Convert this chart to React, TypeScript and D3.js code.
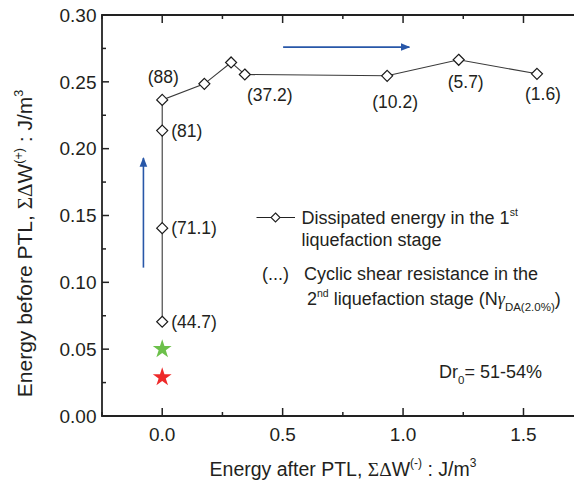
import React from "react";
import * as d3 from "d3";

// ---- data ----
const energyAfter = [0, 0, 0, 0, 0.175, 0.286, 0.343, 0.934, 1.231, 1.556];
const energyBefore = [0.0705, 0.1405, 0.2135, 0.2365, 0.2485, 0.2645, 0.2555, 0.2545, 0.2665, 0.256];
const resistanceLabels = ["(44.7)", "(71.1)", "(81)", "(88)", "", "", "(37.2)", "(10.2)", "(5.7)", "(1.6)"];
const starX = [0, 0];
const starY = [0.05, 0.029];
const starColors = ["#6cc04a", "#ee2a2a"];
const xTicks = [0, 0.5, 1.0, 1.5];
const xMinorTicks = [-0.25, 0.25, 0.75, 1.25, 1.75];
const yTicks = [0, 0.05, 0.1, 0.15, 0.2, 0.25, 0.3];
const yMinorTicks = [0.025, 0.075, 0.125, 0.175, 0.225, 0.275];
// arrows: [x1, y1, x2, y2] in data units
const arrowUp = [-0.078, 0.111, -0.078, 0.193];
const arrowRight = [0.502, 0.276, 1.026, 0.276];

const W = 574;
const H = 485;
const M = { left: 102, top: 15, bottom: 416 };
const FONT = "'Liberation Sans', Arial, Helvetica, sans-serif";
const SERIF = "'Liberation Serif', 'Times New Roman', serif";
const TXT = "#231f20";
const BLUE = "#2857a8";

// label placement (style only)
const labelPlacement: { dx: number; dy: number; anchor: string }[] = [
  { dx: 9, dy: 6, anchor: "start" },
  { dx: 9, dy: 6, anchor: "start" },
  { dx: 9, dy: 6, anchor: "start" },
  { dx: 1, dy: -17, anchor: "middle" },
  { dx: 0, dy: 0, anchor: "start" },
  { dx: 0, dy: 0, anchor: "start" },
  { dx: 25, dy: 27, anchor: "middle" },
  { dx: 8, dy: 32, anchor: "middle" },
  { dx: 7, dy: 28, anchor: "middle" },
  { dx: 6, dy: 26, anchor: "middle" },
];

function diamondPath(cx: number, cy: number, r: number) {
  return `M${cx},${cy - r}L${cx + r},${cy}L${cx},${cy + r}L${cx - r},${cy}Z`;
}

export default function App() {
  const x = d3.scaleLinear().domain([-0.25, 1.75]).range([M.left, 583.7]);
  const y = d3.scaleLinear().domain([0, 0.3]).range([M.bottom, M.top]);
  const right = x(1.75);

  const pts = energyAfter.map((v, i) => [x(v), y(energyBefore[i])] as [number, number]);
  const line = d3.line()(pts) as string;
  const star = d3.symbol().type(d3.symbolStar).size(110)();

  return (
    <svg
      width={W}
      height={H}
      style={{ position: "absolute", left: 0, top: 0, background: "#fff" }}
      fontFamily={FONT}
    >
      <defs>
        <marker id="ah" viewBox="0 0 10 10" refX="9" refY="5" markerWidth="6" markerHeight="6" orient="auto">
          <path d="M0,1L10,5L0,9Z" fill={BLUE} />
        </marker>
      </defs>

      {/* arrows */}
      <line
        x1={x(arrowUp[0])}
        y1={y(arrowUp[1])}
        x2={x(arrowUp[2])}
        y2={y(arrowUp[3])}
        stroke={BLUE}
        strokeWidth={1.6}
        markerEnd="url(#ah)"
      />
      <line
        x1={x(arrowRight[0])}
        y1={y(arrowRight[1])}
        x2={x(arrowRight[2])}
        y2={y(arrowRight[3])}
        stroke={BLUE}
        strokeWidth={1.6}
        markerEnd="url(#ah)"
      />

      {/* data line */}
      <path d={line} fill="none" stroke="#3a3a3a" strokeWidth={1.1} />
      {pts.map((p, i) => (
        <path key={i} d={diamondPath(p[0], p[1], 5.5)} fill="#fff" stroke="#1a1a1a" strokeWidth={1.2} />
      ))}
      {pts.map((p, i) =>
        resistanceLabels[i] ? (
          <text
            key={"l" + i}
            x={p[0] + labelPlacement[i].dx}
            y={p[1] + labelPlacement[i].dy}
            textAnchor={labelPlacement[i].anchor as any}
            fontSize={17.5}
            fill={TXT}
          >
            {resistanceLabels[i]}
          </text>
        ) : null
      )}

      {/* stars */}
      {starX.map((v, i) => (
        <path key={"s" + i} d={star} transform={`translate(${x(v)},${y(starY[i])})`} fill={starColors[i]} />
      ))}

      {/* axes frame */}
      <g stroke="#222" strokeWidth={1.8} fill="none">
        <line x1={M.left} y1={M.top} x2={M.left} y2={M.bottom} />
        <line x1={M.left - 0.9} y1={M.bottom} x2={right} y2={M.bottom} />
        <line x1={M.left - 0.9} y1={M.top} x2={right} y2={M.top} />
      </g>
      <g stroke="#222" strokeWidth={1.5}>
        {yTicks.map((t) => (
          <line key={"yt" + t} x1={M.left} x2={M.left + 7} y1={y(t)} y2={y(t)} />
        ))}
        {yMinorTicks.map((t) => (
          <line key={"ym" + t} x1={M.left} x2={M.left + 4} y1={y(t)} y2={y(t)} />
        ))}
        {xTicks.map((t) => (
          <g key={"xt" + t}>
            <line x1={x(t)} x2={x(t)} y1={M.bottom} y2={M.bottom - 8} />
            <line x1={x(t)} x2={x(t)} y1={M.top} y2={M.top + 8} />
          </g>
        ))}
        {xMinorTicks.map((t) => (
          <g key={"xm" + t}>
            <line x1={x(t)} x2={x(t)} y1={M.bottom} y2={M.bottom - 4} />
            <line x1={x(t)} x2={x(t)} y1={M.top} y2={M.top + 4} />
          </g>
        ))}
      </g>

      {/* tick labels */}
      {yTicks.map((t) => (
        <text key={"yl" + t} x={M.left - 5.5} y={y(t) + 6.8} textAnchor="end" fontSize={19} fill={TXT}>
          {d3.format(".2f")(t)}
        </text>
      ))}
      {xTicks.map((t) => (
        <text key={"xl" + t} x={x(t)} y={M.bottom + 24.5} textAnchor="middle" fontSize={19} fill={TXT}>
          {d3.format(".1f")(t)}
        </text>
      ))}

      {/* axis titles */}
      <text x={343} y={476} textAnchor="middle" fontSize={19.5} fill={TXT}>
        Energy after PTL,{" "}
        <tspan fontFamily={SERIF}>ΣΔ</tspan>W
        <tspan dy={-9} fontSize={12}>(-)</tspan>
        <tspan dy={9}> : J/m</tspan>
        <tspan dy={-9} fontSize={12}>3</tspan>
      </text>
      <text transform="translate(32,243.5) rotate(-90)" textAnchor="middle" fontSize={21} fill={TXT}>
        Energy before PTL,{" "}
        <tspan fontFamily={SERIF}>ΣΔ</tspan>W
        <tspan dy={-9} fontSize={12.5}>(+)</tspan>
        <tspan dy={9}> : J/m</tspan>
        <tspan dy={-9} fontSize={12.5}>3</tspan>
      </text>

      {/* legend */}
      <line x1={256.5} x2={295} y1={217.5} y2={217.5} stroke="#222" strokeWidth={1.1} />
      <path d={diamondPath(275.5, 217.5, 4.5)} fill="#fff" stroke="#222" strokeWidth={1.1} />
      <g fontSize={18} fill={TXT}>
        <text x={301.5} y={223.5}>
          Dissipated energy in the 1<tspan dy={-8} fontSize={10.5}>st</tspan>
        </text>
        <text x={301.5} y={246}>liquefaction stage</text>
        <text x={262} y={280}>(...)</text>
        <text x={304} y={280}>Cyclic shear resistance in the</text>
        <text x={307} y={305}>
          2<tspan dy={-8} fontSize={10.5}>nd</tspan>
          <tspan dy={8}> liquefaction stage (N</tspan>
          <tspan fontFamily={SERIF} fontStyle="italic">γ</tspan>
          <tspan dy={6} fontSize={11.5}>DA(2.0%)</tspan>
          <tspan dy={-6}>)</tspan>
        </text>
        <text x={439} y={378}>
          Dr<tspan dy={6} fontSize={11.5}>0</tspan>
          <tspan dy={-6}>= 51-54%</tspan>
        </text>
      </g>
    </svg>
  );
}
